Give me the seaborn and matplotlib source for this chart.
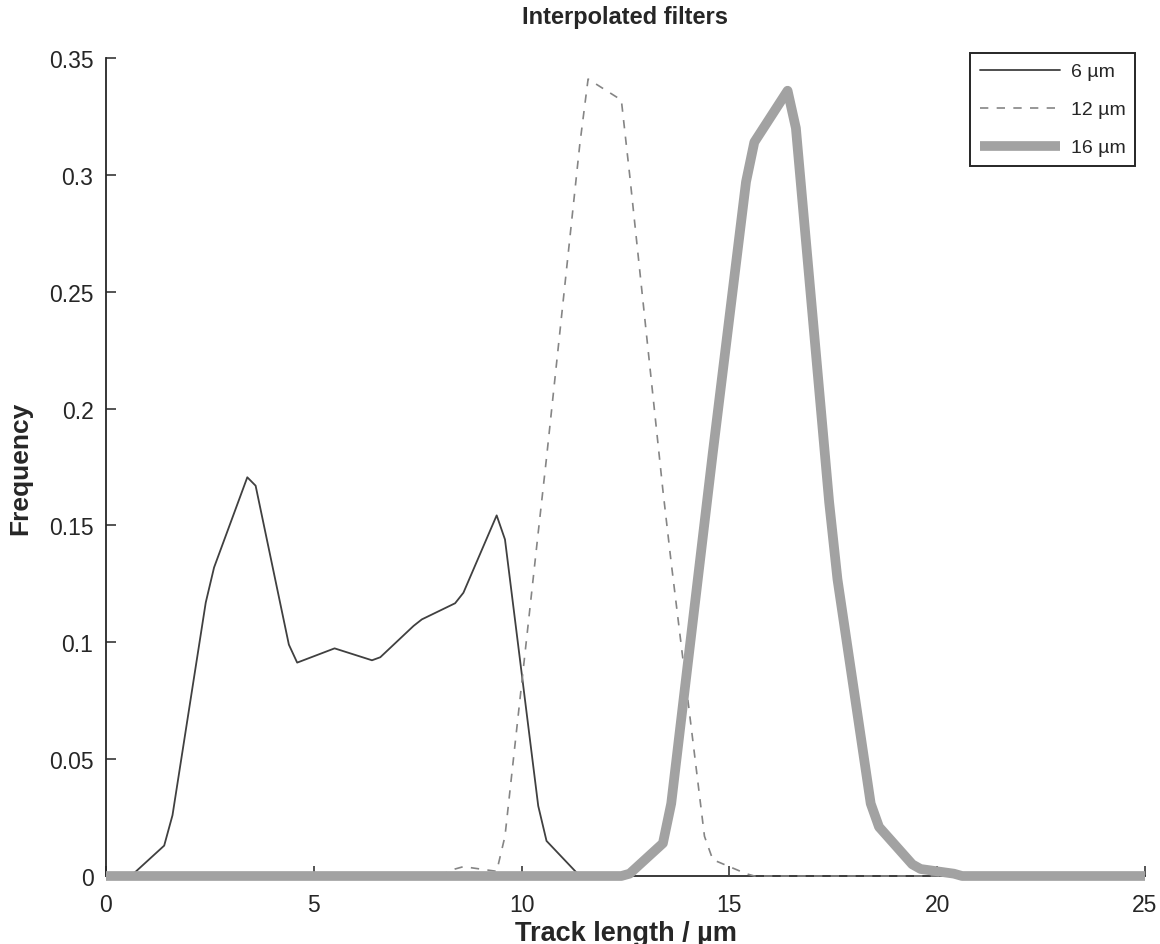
import matplotlib
matplotlib.use("Agg")
import matplotlib.pyplot as plt
import seaborn as sns
import pandas as pd

# ---- data ----
x6 = [0, 0.6, 1.4, 1.6, 2.4, 2.6, 3.4, 3.6, 4.4, 4.6, 5.5, 6.4, 6.6, 7.4, 7.6,
      8.4, 8.6, 9.4, 9.6, 10.4, 10.6, 11.4, 25]
y6 = [0, 0, 0.013, 0.026, 0.117, 0.132, 0.1706, 0.167, 0.099, 0.0913, 0.0974,
      0.0923, 0.0936, 0.107, 0.1098, 0.1167, 0.1212, 0.1543, 0.144, 0.030,
      0.015, 0, 0]

x12 = [0, 8.0, 8.4, 8.6, 9.4, 9.6, 10.4, 10.6, 11.4, 11.6, 12.4, 12.6, 13.4,
       13.6, 14.4, 14.6, 15.4, 15.6, 25]
y12 = [0, 0, 0.003, 0.004, 0.002, 0.017, 0.147, 0.179, 0.313, 0.341, 0.332,
       0.300, 0.165, 0.134, 0.017, 0.007, 0.001, 0, 0]

x16 = [0, 12.4, 12.6, 13.4, 13.6, 14.4, 14.6, 15.4, 15.6, 16.4, 16.6, 17.4,
       17.6, 18.4, 18.6, 19.4, 19.6, 20.4, 20.6, 25]
y16 = [0, 0, 0.001, 0.014, 0.031, 0.151, 0.181, 0.297, 0.314, 0.336, 0.320,
       0.160, 0.127, 0.031, 0.021, 0.005, 0.003, 0.001, 0, 0]

labels = ["6 µm", "12 µm", "16 µm"]
xticks = [0, 5, 10, 15, 20, 25]
yticks = [0, 0.05, 0.1, 0.15, 0.2, 0.25, 0.3, 0.35]
yticklabels = ["0", "0.05", "0.1", "0.15", "0.2", "0.25", "0.3", "0.35"]

sns.set_theme(style="white")
plt.rcParams["font.family"] = ["Liberation Sans", "DejaVu Sans"]

fig = plt.figure(figsize=(11.6, 9.45), dpi=100)
ax = fig.add_axes([106 / 1160, (945 - 877) / 945, 1039 / 1160, (877 - 59) / 945])

df6 = pd.DataFrame({"x": x6, "y": y6})
df12 = pd.DataFrame({"x": x12, "y": y12})
df16 = pd.DataFrame({"x": x16, "y": y16})

sns.lineplot(data=df6, x="x", y="y", ax=ax, color="#404040", lw=1.3,
             sort=False, estimator=None, label=labels[0], zorder=3, clip_on=False)
sns.lineplot(data=df12, x="x", y="y", ax=ax, color="#858585", lw=1.2,
             linestyle=(0, (5, 5)), sort=False, estimator=None,
             label=labels[1], zorder=3, clip_on=False)
sns.lineplot(data=df16, x="x", y="y", ax=ax, color="#a2a2a2", lw=7.0,
             sort=False, estimator=None, label=labels[2], zorder=3,
             clip_on=False, solid_capstyle="butt", solid_joinstyle="round")

ax.set_xlim(0, 25)
ax.set_ylim(0, 0.35)
ax.set_xticks(xticks)
ax.set_xticklabels([str(t) for t in xticks])
ax.set_yticks(yticks)
ax.set_yticklabels(yticklabels)

for s in ["top", "right"]:
    ax.spines[s].set_visible(False)
for s in ["left", "bottom"]:
    ax.spines[s].set_color("#262626")
    ax.spines[s].set_linewidth(1.3)

ax.tick_params(axis="both", direction="in", length=7.5, width=1.1,
               colors="#262626", labelsize=16.5, bottom=True, left=True,
               top=False, right=False)
ax.tick_params(axis="y", pad=9)
ax.tick_params(axis="x", pad=12)

ax.set_xlabel("Track length / µm", fontsize=19.5, fontweight="bold",
              color="#262626", labelpad=3)
ax.set_ylabel("Frequency", fontsize=19, fontweight="bold", color="#262626",
              labelpad=12)
ax.set_title("Interpolated filters", fontsize=17, fontweight="bold",
             color="#262626", pad=25)

leg = ax.legend(loc="upper right", bbox_to_anchor=(1135 / 1160, 1 - 54 / 945),
                bbox_transform=fig.transFigure, borderaxespad=0,
                fontsize=14, frameon=True, fancybox=False, shadow=False,
                handlelength=4.1, handletextpad=0.55, labelspacing=1.05,
                borderpad=0.5)
leg.get_frame().set_edgecolor("#262626")
leg.get_frame().set_linewidth(1.4)
leg.get_frame().set_alpha(1)
for t in leg.get_texts():
    t.set_color("#262626")

fig.savefig("out.png", dpi=100)
